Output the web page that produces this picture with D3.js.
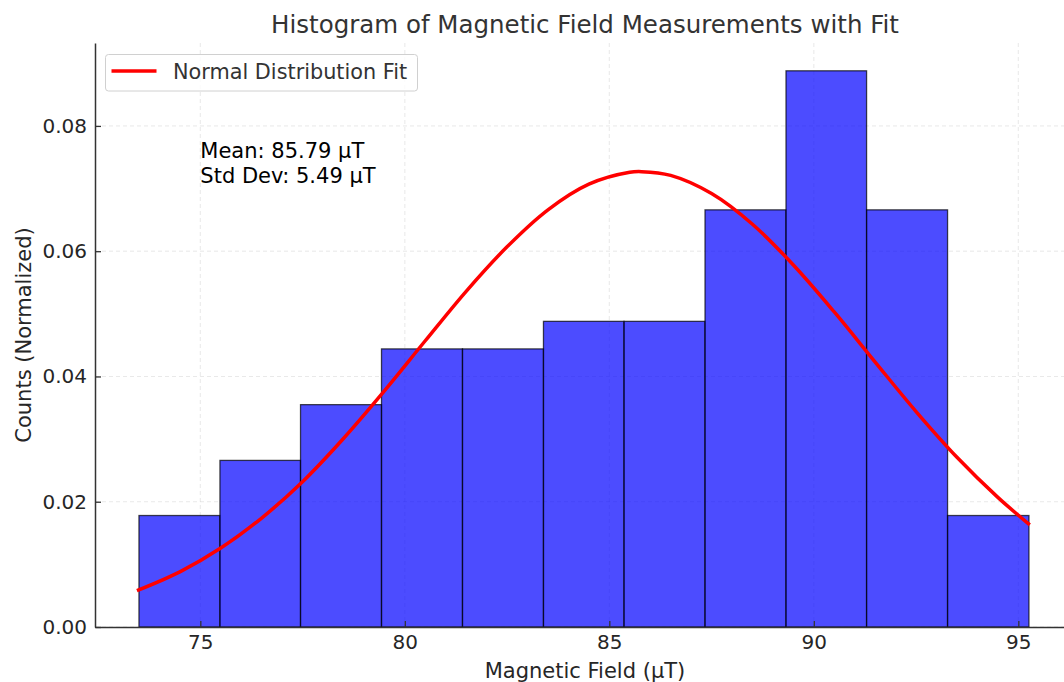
<!DOCTYPE html>
<html>
<head>
<meta charset="utf-8">
<script src="https://cdn.jsdelivr.net/npm/d3@7"></script>
<style>
  body { margin: 0; background: #fff; }
  text { font-family: "DejaVu Sans", sans-serif; }
</style>
</head>
<body>
<div class="chartWrap"></div>
<script>
//Data
const binEdges = [73.50, 75.48, 77.45, 79.43, 81.41, 83.39, 85.36, 87.34, 89.32, 91.29, 93.27, 95.26];
const binDensity = [0.0178, 0.0266, 0.0355, 0.0444, 0.0444, 0.0488, 0.0488, 0.0666, 0.0888, 0.0666, 0.0178];
const fitX = [73.45, 74.5, 75.5, 76.5, 77.5, 78.5, 79.5, 80.5, 81.5, 82.5, 83.5, 84.5, 85.5, 85.79, 86.5, 87.5, 88.5, 89.5, 90.5, 91.5, 92.5, 93.5, 94.5, 95.28];
const fitY = [0.0058, 0.0088, 0.0126, 0.0174, 0.0232, 0.0301, 0.0377, 0.0457, 0.0536, 0.0607, 0.0666, 0.0707, 0.0726, 0.0727, 0.0721, 0.0692, 0.0643, 0.0578, 0.0503, 0.0423, 0.0344, 0.0271, 0.0207, 0.0163];
const xTicks = [75, 80, 85, 90, 95];
const yTicks = [0.00, 0.02, 0.04, 0.06, 0.08];
const statLines = ["Mean: 85.79 µT", "Std Dev: 5.49 µT"];

//Layout
const W = 1064, H = 682;
const margin = {top: 43, left: 95, bottom: 55, right: -11};
const w = W - margin.left - margin.right,
      h = H - margin.top - margin.bottom;

let svg = d3.select(".chartWrap").append("svg").attr("width", W).attr("height", H);
let g = svg.append("g").attr("transform", `translate(${margin.left},${margin.top})`);

let x = d3.scaleLinear().domain([72.425, 96.386]).range([0, w]);
let y = d3.scaleLinear().domain([0, 0.09324]).range([h, 0]);

//Grid
g.selectAll(".vgrid").data(xTicks).enter().append("line")
  .attr("x1", d => x(d)).attr("x2", d => x(d)).attr("y1", 0).attr("y2", h)
  .attr("stroke", "#d8d8d8").attr("stroke-width", 0.8).attr("stroke-dasharray", "4,3").attr("opacity", 0.7);
g.selectAll(".hgrid").data(yTicks).enter().append("line")
  .attr("y1", d => y(d)).attr("y2", d => y(d)).attr("x1", 0).attr("x2", w)
  .attr("stroke", "#d8d8d8").attr("stroke-width", 0.8).attr("stroke-dasharray", "4,3").attr("opacity", 0.7);

//Bars
g.selectAll(".bar").data(binDensity).enter().append("rect")
  .attr("x", (d, i) => x(binEdges[i]))
  .attr("width", (d, i) => x(binEdges[i + 1]) - x(binEdges[i]))
  .attr("y", d => y(d))
  .attr("height", d => h - y(d))
  .attr("fill", "blue").attr("fill-opacity", 0.7)
  .attr("stroke", "black").attr("stroke-opacity", 0.7).attr("stroke-width", 1.3);

//Fit curve
let line = d3.line().x(d => x(d[0])).y(d => y(d[1])).curve(d3.curveCatmullRom);
g.append("path").datum(fitX.map((v, i) => [v, fitY[i]]))
  .attr("d", line).attr("fill", "none").attr("stroke", "red").attr("stroke-width", 3.5);

//Axes (ticks point inward)
let xAxis = g.append("g").attr("transform", `translate(0,${h})`)
  .call(d3.axisBottom(x).tickValues(xTicks).tickSizeInner(-6).tickSizeOuter(0).tickPadding(8).tickFormat(d3.format("d")));
let yAxis = g.append("g")
  .call(d3.axisLeft(y).tickValues(yTicks).tickSizeInner(-6).tickSizeOuter(0).tickPadding(8).tickFormat(d3.format(".2f")));
[xAxis, yAxis].forEach(a => {
  a.select(".domain").attr("stroke", "#333").attr("stroke-width", 1.5);
  a.selectAll(".tick line").attr("stroke", "#333").attr("stroke-width", 1.3);
  a.selectAll(".tick text").attr("font-size", 20).attr("fill", "#262626").attr("font-family", "DejaVu Sans");
});

//Stats text
g.append("text").attr("x", x(75)).attr("y", 158.3 - margin.top).attr("font-size", 21).attr("fill", "black")
  .selectAll("tspan").data(statLines).enter().append("tspan")
  .attr("x", x(75)).attr("dy", (d, i) => i ? 25 : 0).text(d => d);

//Title and labels
svg.append("text").attr("x", margin.left + w / 2).attr("y", 33).attr("text-anchor", "middle")
  .attr("font-size", 24.5).attr("fill", "#333").text("Histogram of Magnetic Field Measurements with Fit");
svg.append("text").attr("x", margin.left + w / 2).attr("y", 677.5).attr("text-anchor", "middle")
  .attr("font-size", 21).attr("fill", "#262626").text("Magnetic Field (µT)");
svg.append("text").attr("transform", `translate(31,${margin.top + h / 2}) rotate(-90)`).attr("text-anchor", "middle")
  .attr("font-size", 21).attr("fill", "#262626").text("Counts (Normalized)");

//Legend
let lg = svg.append("g").attr("transform", "translate(105.5,54.5)");
lg.append("rect").attr("width", 312).attr("height", 36.5).attr("rx", 3)
  .attr("fill", "white").attr("fill-opacity", 0.8).attr("stroke", "#d0d0d0");
lg.append("line").attr("x1", 6).attr("x2", 51).attr("y1", 16.5).attr("y2", 16.5)
  .attr("stroke", "red").attr("stroke-width", 3.5);
lg.append("text").attr("x", 67.5).attr("y", 24.8).attr("font-size", 20.8).attr("fill", "#333").text("Normal Distribution Fit");
</script>
</body>
</html>
